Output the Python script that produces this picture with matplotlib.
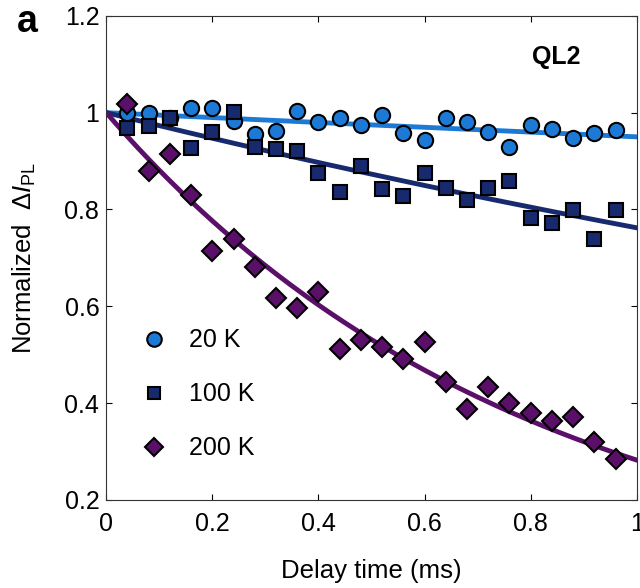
import matplotlib.pyplot as plt
import numpy as np
from matplotlib.ticker import FuncFormatter

plt.rcParams["font.family"] = "Liberation Sans"
plt.rcParams["xtick.direction"] = "in"
plt.rcParams["ytick.direction"] = "in"
plt.rcParams["mathtext.fontset"] = "custom"
plt.rcParams["mathtext.rm"] = "Liberation Sans"
plt.rcParams["mathtext.it"] = "Liberation Sans:italic"

# delay times (ms)
t = [0.04, 0.08, 0.12, 0.16, 0.20, 0.24, 0.28, 0.32, 0.36, 0.40, 0.44, 0.48,
     0.52, 0.56, 0.60, 0.64, 0.68, 0.72, 0.76, 0.80, 0.84, 0.88, 0.92, 0.96]

y_20k = [1.00, 1.00, 0.988, 1.01, 1.01, 0.983, 0.955, 0.963, 1.004, 0.98, 0.988, 0.975,
         0.996, 0.959, 0.944, 0.99, 0.98, 0.961, 0.93, 0.975, 0.967, 0.948, 0.957, 0.965]
y_100k = [0.969, 0.972, 0.988, 0.928, 0.961, 1.002, 0.93, 0.924, 0.92, 0.876, 0.837, 0.889,
          0.843, 0.827, 0.876, 0.845, 0.82, 0.845, 0.858, 0.783, 0.773, 0.798, 0.738, 0.798]
y_200k = [1.017, 0.88, 0.915, 0.83, 0.715, 0.738, 0.681, 0.618, 0.597, 0.63, 0.512, 0.531,
          0.516, 0.49, 0.526, 0.444, 0.388, 0.434, 0.40, 0.38, 0.362, 0.372, 0.32, 0.285]

# decay constants of fitted curves (ms)
tau_fit = [19.5, 3.68, 0.79]

labels = ["20 K", "100 K", "200 K"]
colors = ["#1c7ad6", "#172a6e", "#5a0f68"]
markers = ["o", "s", "D"]
msizes = [11, 9.5, 10]

fig = plt.figure(figsize=(6.4, 5.88), dpi=100)
ax = fig.add_axes([0.166, 0.150, 0.829, 0.823])

tt = np.linspace(0, 1, 200)
for y, tau, c, m, ms, lab in zip([y_20k, y_100k, y_200k], tau_fit, colors, markers, msizes, labels):
    ax.plot(tt, np.exp(-tt / tau), color=c, lw=3.5, zorder=2)
    ax.plot(t, y, ls="none", marker=m, ms=ms, mfc=c, mec="black", mew=1.5, label=lab, zorder=3)

ax.set_xlim(0, 1)
ax.set_ylim(0.2, 1.2)
ax.set_xticks([0, 0.2, 0.4, 0.6, 0.8, 1])
ax.set_yticks([0.2, 0.4, 0.6, 0.8, 1, 1.2])
fmt = FuncFormatter(lambda v, p: "%g" % v)
ax.xaxis.set_major_formatter(fmt)
ax.yaxis.set_major_formatter(fmt)
ax.tick_params(labelsize=18, length=4, top=True, right=True)
ax.tick_params(axis="x", pad=9)
ax.tick_params(axis="y", pad=5)
for s in ax.spines.values():
    s.set_color("#333333")

ax.set_xlabel("Delay time (ms)", fontsize=18.5, labelpad=16)
ax.set_ylabel(r"Normalized  $\Delta\mathit{I}_{\mathrm{PL}}$", fontsize=18.5, labelpad=19)

ax.legend(loc="lower left", bbox_to_anchor=(0.0, 0.035), frameon=False, fontsize=18,
          handletextpad=0.4, labelspacing=1.2, markerscale=0.95)

ax.text(0.893, 0.915, "QL2", transform=ax.transAxes, fontsize=18, fontweight="bold",
        ha="right", va="center")
fig.text(0.027, 0.962, "a", fontsize=27, fontweight="bold", ha="left", va="center")

fig.savefig("out.png", dpi=100)
